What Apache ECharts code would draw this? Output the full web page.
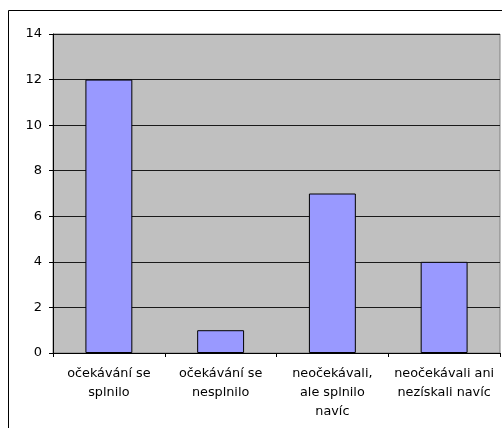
<!DOCTYPE html>
<html>
<head>
<meta charset="utf-8">
<script src="https://cdn.jsdelivr.net/npm/echarts@6/dist/echarts.min.js"></script>
<style>
  html, body { margin: 0; padding: 0; background: #fff; }
  #chart { width: 502px; height: 428px; }
</style>
</head>
<body>
<div id="chart"></div>
<script>
// Answer categories (labels wrapped by hand) and respondent counts
const categories = [
  'očekávání se\nsplnilo',
  'očekávání se\nnesplnilo',
  'neočekávali,\nale splnilo\nnavíc',
  'neočekávali ani\nnezískali navíc'
];
const counts = [12, 1, 7, 4];
const yTicks = { min: 0, max: 14, interval: 2 };

const chart = echarts.init(document.getElementById('chart'), null, { renderer: 'canvas' });

chart.setOption({
  animation: false,
  backgroundColor: '#ffffff',
  textStyle: { fontFamily: 'DejaVu Sans, sans-serif' },
  graphic: [{
    // chart frame, its right and bottom sides run past the page edge
    type: 'rect',
    shape: { x: 8.5, y: 10.5, width: 520, height: 440 },
    style: { fill: 'none', stroke: '#000', lineWidth: 1 },
    z: 100
  }],
  grid: {
    left: 53, top: 34, right: 2, bottom: 75,
    show: true,
    backgroundColor: '#c0c0c0',
    borderColor: '#808080',
    borderWidth: 1
  },
  xAxis: {
    type: 'category',
    data: categories,
    axisLine: { lineStyle: { color: '#000', width: 1 } },
    axisTick: { show: true, alignWithLabel: false, length: 4, lineStyle: { color: '#000' } },
    axisLabel: {
      color: '#000', fontSize: 12.8, lineHeight: 19, margin: 11,
      interval: 0, align: 'center', fontFamily: 'DejaVu Sans, sans-serif'
    },
    splitLine: { show: false }
  },
  yAxis: {
    type: 'value',
    min: yTicks.min, max: yTicks.max, interval: yTicks.interval,
    axisLine: { show: true, lineStyle: { color: '#000', width: 1 } },
    axisTick: { show: true, length: 4, lineStyle: { color: '#000' } },
    axisLabel: { color: '#000', fontSize: 13, margin: 11, fontFamily: 'DejaVu Sans, sans-serif' },
    splitLine: { show: true, lineStyle: { color: '#1a1a1a', width: 1 } }
  },
  series: [{
    type: 'bar',
    data: counts,
    barCategoryGap: '58%',
    itemStyle: { color: '#9999ff', borderColor: '#000', borderWidth: 1 }
  }]
});
</script>
</body>
</html>
